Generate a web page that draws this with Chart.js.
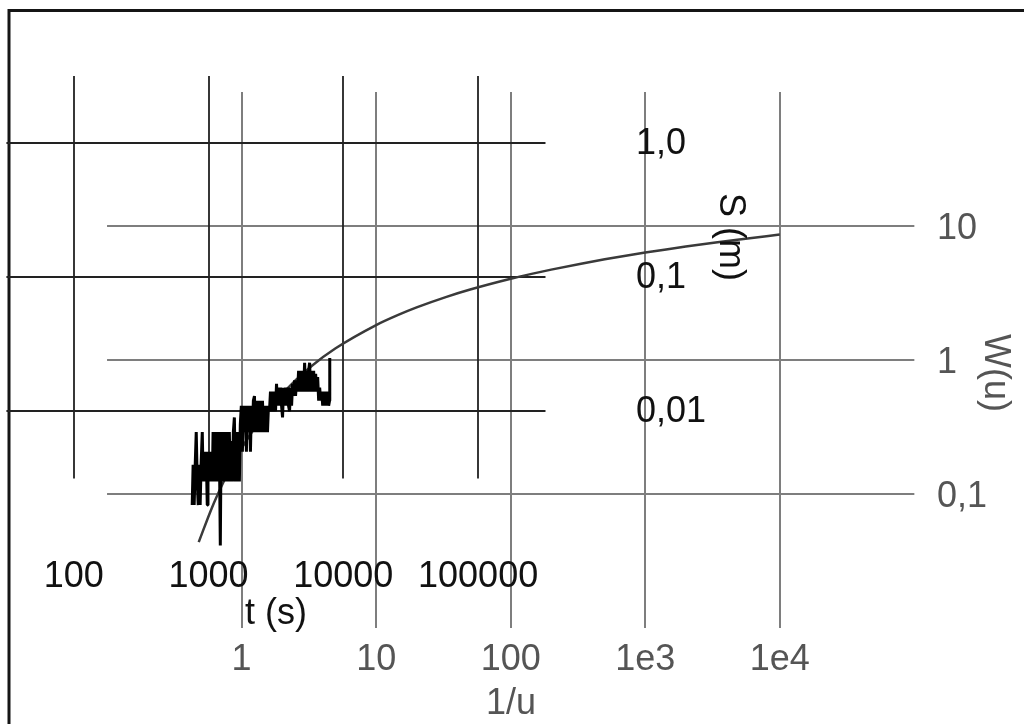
<!DOCTYPE html>
<html>
<head>
<meta charset="utf-8">
<script src="https://cdn.jsdelivr.net/npm/chart.js@4.4.1/dist/chart.umd.min.js"></script>
<style>
  html, body { margin: 0; padding: 0; background: #fff; }
  canvas { display: block; }
</style>
</head>
<body>
<canvas id="c" width="1024" height="724"></canvas>
<script>
// Field grid (black): time t (s) against drawdown s (m)
const tTicks = [100, 1000, 10000, 100000];
const tTickLabels = ['100', '1000', '10000', '100000'];
const sTicks = [1, 0.1, 0.01];
const sTickLabels = ['1,0', '0,1', '0,01'];

// Type-curve grid (grey): 1/u against W(u)
const invUTicks = [1, 10, 100, 1000, 10000];
const invUTickLabels = ['1', '10', '100', '1e3', '1e4'];
const wTicks = [10, 1, 0.1];
const wTickLabels = ['10', '1', '0,1'];

// Measured drawdown (logger resolution 1 mm)
const timeS = [
  756, 768, 782, 796, 810, 824, 838, 852, 866, 880,
  898, 912, 926, 940, 955, 970, 978, 990, 1005, 1020, 1035, 1050, 1066,
  1080, 1100, 1120, 1140, 1160, 1180, 1200, 1222, 1240, 1262, 1284, 1306,
  1330, 1354, 1378, 1402, 1426, 1450, 1476, 1500, 1527, 1554, 1580, 1608,
  1636, 1664, 1693, 1720,
  1750, 1782, 1815, 1845, 1875, 1909, 1940, 1975, 2010, 2045, 2080, 2115,
  2150, 2190, 2225, 2265, 2305, 2345, 2385, 2430, 2470, 2512, 2555, 2598,
  2645, 2690, 2736, 2783, 2831, 2880, 2930, 2981, 3033, 3085, 3139, 3193,
  3250, 3305, 3361, 3420, 3480, 3539, 3600, 3662, 3725, 3790, 3855, 3920,
  3990, 4060, 4130, 4201, 4275, 4347, 4420, 4500, 4576, 4655, 4736, 4820,
  4900, 4986, 5070, 5160, 5250, 5340, 5432, 5525, 5622, 5720, 5820, 5918,
  6020, 6124, 6230, 6340, 6448, 6560, 6673, 6790, 6906, 7030, 7150, 7270,
  7400, 7520, 7653, 7780, 7900, 7930
];
const drawdownM = [
  0.002, 0.004, 0.002, 0.004, 0.007, 0.003, 0.002, 0.004, 0.002, 0.004,
  0.007, 0.003, 0.005, 0.003, 0.005, 0.003, 0.002, 0.005, 0.003, 0.005, 0.003, 0.005, 0.003,
  0.007, 0.003, 0.007, 0.003, 0.007, 0.003, 0.007, 0.001, 0.007, 0.003, 0.007, 0.003,
  0.007, 0.003, 0.007, 0.003, 0.007, 0.003, 0.006, 0.003, 0.007, 0.009, 0.003, 0.007,
  0.003, 0.007, 0.003, 0.008,
  0.011, 0.005, 0.011, 0.007, 0.011, 0.005, 0.011, 0.007, 0.011, 0.005, 0.011, 0.007,
  0.012, 0.013, 0.007, 0.012, 0.007, 0.012, 0.007, 0.012, 0.007, 0.012, 0.007, 0.011,
  0.007, 0.011, 0.007, 0.011, 0.010, 0.014, 0.010, 0.014, 0.010, 0.014, 0.010, 0.016,
  0.011, 0.015, 0.011, 0.015, 0.011, 0.009, 0.015, 0.011, 0.015, 0.011, 0.015, 0.011,
  0.010, 0.015, 0.011, 0.016, 0.013, 0.017, 0.013, 0.017, 0.014, 0.020, 0.014, 0.020,
  0.014, 0.020, 0.014, 0.023, 0.014, 0.020, 0.014, 0.020, 0.023, 0.014, 0.020, 0.014,
  0.020, 0.014, 0.019, 0.014, 0.018, 0.012, 0.015, 0.012, 0.014, 0.011, 0.014, 0.011,
  0.014, 0.011, 0.014, 0.011, 0.012, 0.025
];

// Theis type curve
const invU = [
  0.48, 0.6, 0.7143, 0.8333, 1, 1.25, 1.4286, 2, 3.333, 5, 10, 14.29, 20,
  33.33, 50, 100, 142.9, 200, 333.3, 500, 1000, 1429, 2000, 3333, 5000, 10000
];
const wellFn = [
  0.0437, 0.0784, 0.1162, 0.1584, 0.2194, 0.3106, 0.3738, 0.5598, 0.9057, 1.2227, 1.8229, 2.1508, 2.4679,
  2.9591, 3.3547, 4.0379, 4.3916, 4.7261, 5.2349, 5.6394, 6.3315, 6.6879, 7.0242, 7.5348, 7.9402, 8.6332
];

// ---- layout: each grid is placed by one anchor value and its decade length ----
const CW = 1024, CH = 724;
function spanX(v0, px, perDecade) {
  return { min: v0 * Math.pow(10, -px / perDecade), max: v0 * Math.pow(10, (CW - px) / perDecade) };
}
function spanY(v0, py, perDecade) {
  return { min: v0 * Math.pow(10, -(CH - py) / perDecade), max: v0 * Math.pow(10, py / perDecade) };
}
const xtSpan = spanX(100, 73.8, 134.77);
const ysSpan = spanY(1, 143, 134.15);
const xuSpan = spanX(1, 241.6, 134.55);
const ywSpan = spanY(1, 360, 134);

const FONT = '36px "Liberation Sans", Arial, sans-serif';
const INK = '#111111';
const GREY_TEXT = '#555555';

const gridsAndLabels = {
  id: 'gridsAndLabels',
  beforeDatasetsDraw(chart) {
    const { ctx, scales } = chart;
    const xt = scales.xt, ys = scales.ys, xu = scales.xu, yw = scales.yw;
    ctx.save();
    // frame
    ctx.strokeStyle = '#151515';
    ctx.lineWidth = 3;
    ctx.beginPath();
    ctx.moveTo(7.5, 10.5); ctx.lineTo(CW, 10.5);
    ctx.moveTo(9, 9); ctx.lineTo(9, CH);
    ctx.stroke();

    // grey type-curve grid
    ctx.strokeStyle = '#7e7e7e';
    ctx.lineWidth = 2;
    ctx.beginPath();
    invUTicks.forEach(v => {
      const x = Math.round(xu.getPixelForValue(v));
      ctx.moveTo(x, yw.getPixelForValue(100));
      ctx.lineTo(x, yw.getPixelForValue(0.01));
    });
    wTicks.forEach(v => {
      const y = Math.round(yw.getPixelForValue(v));
      ctx.moveTo(xu.getPixelForValue(0.1), y);
      ctx.lineTo(xu.getPixelForValue(100000), y);
    });
    ctx.stroke();

    // black field-data grid
    ctx.strokeStyle = '#222222';
    ctx.lineWidth = 1.8;
    ctx.beginPath();
    tTicks.forEach(v => {
      const x = Math.round(xt.getPixelForValue(v));
      ctx.moveTo(x, ys.getPixelForValue(Math.pow(10, 0.5)));
      ctx.lineTo(x, ys.getPixelForValue(Math.pow(10, -2.5)));
    });
    sTicks.forEach(v => {
      const y = Math.round(ys.getPixelForValue(v));
      ctx.moveTo(xt.getPixelForValue(Math.pow(10, 1.5)), y);
      ctx.lineTo(xt.getPixelForValue(Math.pow(10, 5.5)), y);
    });
    ctx.stroke();
    ctx.restore();
  },
  afterDatasetsDraw(chart) {
    const { ctx, scales } = chart;
    const xt = scales.xt, ys = scales.ys, xu = scales.xu, yw = scales.yw;
    ctx.save();
    ctx.font = FONT;
    ctx.textBaseline = 'alphabetic';

    // time axis
    ctx.fillStyle = INK;
    ctx.textAlign = 'center';
    tTicks.forEach((v, i) => ctx.fillText(tTickLabels[i], xt.getPixelForValue(v), 587));
    ctx.fillText('t (s)', 276, 624);

    // drawdown axis
    ctx.textAlign = 'left';
    sTicks.forEach((v, i) => ctx.fillText(sTickLabels[i], 636, ys.getPixelForValue(v) + 10.5));
    ctx.save();
    ctx.translate(720, 237);
    ctx.rotate(Math.PI / 2);
    ctx.textAlign = 'center';
    ctx.fillText('S (m)', 0, 0);
    ctx.restore();

    // 1/u axis
    ctx.fillStyle = GREY_TEXT;
    ctx.textAlign = 'center';
    invUTicks.forEach((v, i) => ctx.fillText(invUTickLabels[i], xu.getPixelForValue(v), 670));
    ctx.fillText('1/u', 511, 714);

    // W(u) axis
    ctx.textAlign = 'left';
    wTicks.forEach((v, i) => ctx.fillText(wTickLabels[i], 937, yw.getPixelForValue(v) + 12.5));
    ctx.save();
    ctx.translate(985, 373);
    ctx.rotate(Math.PI / 2);
    ctx.textAlign = 'center';
    ctx.fillText('W(u)', 0, 0);
    ctx.restore();

    ctx.restore();
  }
};

const hiddenLog = (span) => ({
  type: 'logarithmic', display: false, min: span.min, max: span.max
});

new Chart(document.getElementById('c'), {
  type: 'scatter',
  data: {
    datasets: [
      {
        label: 'W(u)',
        data: invU.map((v, i) => ({ x: v, y: wellFn[i] })),
        xAxisID: 'xu', yAxisID: 'yw',
        showLine: true,
        borderColor: '#3a3a3a',
        borderWidth: 2.5,
        pointRadius: 0,
        cubicInterpolationMode: 'monotone',
        order: 2
      },
      {
        label: 's (m)',
        data: timeS.map((t, i) => ({ x: t, y: drawdownM[i] })),
        xAxisID: 'xt', yAxisID: 'ys',
        showLine: true,
        borderColor: '#000000',
        borderWidth: 3,
        borderJoinStyle: 'bevel',
        pointRadius: 0,
        order: 1
      }
    ]
  },
  options: {
    responsive: false,
    animation: false,
    devicePixelRatio: 1,
    events: [],
    layout: { padding: 0 },
    plugins: { legend: { display: false }, tooltip: { enabled: false } },
    scales: {
      xt: { ...hiddenLog(xtSpan), axis: 'x', position: 'bottom' },
      ys: { ...hiddenLog(ysSpan), axis: 'y', position: 'left' },
      xu: { ...hiddenLog(xuSpan), axis: 'x', position: 'top' },
      yw: { ...hiddenLog(ywSpan), axis: 'y', position: 'right' }
    }
  },
  plugins: [gridsAndLabels]
});
</script>
</body>
</html>
